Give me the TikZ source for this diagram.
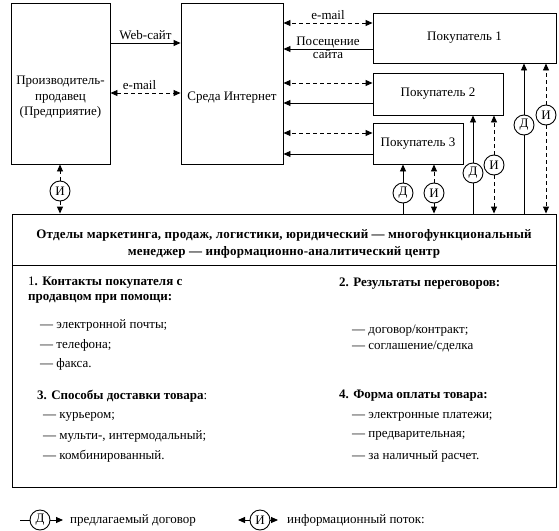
\documentclass[tikz,border=0pt]{standalone}
\usepackage{fontspec}
\setmainfont{Liberation Serif}
\newfontfamily\headfont[LetterSpace=1.5]{Liberation Serif}
\usetikzlibrary{arrows.meta, positioning}

\tikzset{tri/.tip={Triangle[length=7pt,width=6pt]}}

\begin{document}
\begin{tikzpicture}[
  x=1pt, y=-1pt,
  font=\fontsize{13}{15.5}\selectfont,
  box/.style={draw, line width=0.9pt, inner sep=0pt},
  badge/.style={circle, draw, fill=white, line width=0.9pt, minimum size=20pt, inner sep=0pt},
  wire/.style={line width=0.9pt},
  deal/.style={wire, -tri},
  info/.style={wire, dash pattern=on 4pt off 3pt, -tri},
  mail/.style={wire, dash pattern=on 4pt off 3pt, tri-tri},
  lbl/.style={inner sep=3pt},
  tight/.style={inner sep=0.5pt},
  item/.style={anchor=west, inner sep=0pt}
]
\useasboundingbox (0,0) rectangle (559,530);

% boxes
\node[box, minimum width=99pt, minimum height=161pt] (prod) at (60.5,83.5) {};
\node[align=center] (prodtxt) at ([yshift=-14pt]prod.center) {Производитель-\\продавец\\(Предприятие)};
\node[box, minimum width=102pt, minimum height=161pt] (inet) at (232,83.5) {};
\node (inettxt) at ([yshift=-14pt]inet.center) {Среда Интернет};
\node[box, minimum width=183pt, minimum height=50pt] (buy1) at (464.5,38) {Покупатель 1};
\node[box, minimum width=130pt, minimum height=42pt] (buy2) at (438,94) {Покупатель 2};
\node[box, minimum width=90pt, minimum height=41pt] (buy3) at (418,143.5) {Покупатель 3};
\node[box, minimum width=544pt, minimum height=51pt] (head) at (284,239.5) {};
\node[box, minimum width=544pt, minimum height=222pt] (body) at (284,376) {};
\node[align=center, font=\fontsize{13}{17}\headfont\bfseries] (headtxt) at ([yshift=-4pt]head.center)
  {Отделы маркетинга, продаж, логистики, юридический — многофункциональный\\
   менеджер — информационно-аналитический центр};

% seller -- internet
\draw[deal] ([yshift=40.5pt]prod.east) -- ([yshift=40.5pt]inet.west) node[midway, above, lbl] {Web-сайт};
\draw[mail] ([yshift=-9.5pt]prod.east) -- ([yshift=-9.5pt]inet.west) node[midway, above, lbl, xshift=-6pt] {e-mail};

% internet -- buyers
\coordinate (m1) at ([yshift=15pt]buy1.west);
\coordinate (v1) at ([yshift=-11pt]buy1.west);
\coordinate (m2) at ([yshift=11pt]buy2.west);
\coordinate (v2) at ([yshift=-9pt]buy2.west);
\coordinate (m3) at ([yshift=10.5pt]buy3.west);
\coordinate (v3) at ([yshift=-10.5pt]buy3.west);
\draw[mail] (m1) -- (m1 -| inet.east) node[midway, above, lbl] {e-mail};
\draw[deal] (v1) -- (v1 -| inet.east) node[midway, above, tight] {Посещение} node[midway, below, tight] {сайта};
\draw[mail] (m2) -- (m2 -| inet.east);
\draw[deal] (v2) -- (v2 -| inet.east);
\draw[mail] (m3) -- (m3 -| inet.east);
\draw[deal] (v3) -- (v3 -| inet.east);

% contracts and information flows
\node[badge] (i0) at (60,191) {И};
\draw[info] (i0) -- (prod.south -| i0);
\draw[info] (i0) -- (head.north -| i0);

\node[badge] (d3) at (403,193) {Д};
\node[badge] (i3) at (434,193) {И};
\node[badge] (d2) at (473,173) {Д};
\node[badge] (i2) at (494,165) {И};
\node[badge] (d1) at (524,125) {Д};
\node[badge] (i1) at (546,115) {И};
\draw[wire] (d3) -- (head.north -| d3);
\draw[deal] (d3) -- (buy3.south -| d3);
\draw[info] (i3) -- (head.north -| i3);
\draw[info] (i3) -- (buy3.south -| i3);
\draw[wire] (d2) -- (head.north -| d2);
\draw[deal] (d2) -- (buy2.south -| d2);
\draw[info] (i2) -- (head.north -| i2);
\draw[info] (i2) -- (buy2.south -| i2);
\draw[wire] (d1) -- (head.north -| d1);
\draw[deal] (d1) -- (buy1.south -| d1);
\draw[info] (i1) -- (head.north -| i1);
\draw[info] (i1) -- (buy1.south -| i1);

% lists
\node[item] (h1) at (28,283) {1\textbf{. Контакты покупателя с}};
\node[item] (h1b) at (28,299) {\textbf{продавцом при помощи:}};
\node[item] (h2) at (339,284) {\textbf{2. Результаты переговоров:}};
\node[item] (h3) at (37,396) {\textbf{3. Способы доставки товара}:};
\node[item] (h4) at (339,396) {\textbf{4. Форма оплаты товара:}};
\foreach \y/\txt [count=\i] in {325/{электронной почты;}, 345/{телефона;}, 364/{факса.}}
  \node[item] (a\i) at (40,\y) {— \txt};
\foreach \y/\txt [count=\i] in {331/{договор/контракт;}, 346/{соглашение/сделка}}
  \node[item] (b\i) at (352,\y) {— \txt};
\foreach \y/\txt [count=\i] in {417/{курьером;}, 436/{мульти-, интермодальный;}, 456/{комбинированный.}}
  \node[item] (c\i) at (43,\y) {— \txt};
\foreach \y/\txt [count=\i] in {417/{электронные платежи;}, 436/{предварительная;}, 456/{за наличный расчет.}}
  \node[item] (e\i) at (352,\y) {— \txt};

% legend
\node[badge] (keyd) at (40,520) {Д};
\coordinate (keyd0) at (20,520);
\node[item] (keydtxt) at (70,520) {предлагаемый договор};
\draw[wire] (keyd0) -- (keyd);
\draw[deal] (keyd) -- ([xshift=-7pt]keydtxt.west);
\node[badge] (keyi) at (260,520) {И};
\coordinate (keyi0) at (238,520);
\node[item] (keyitxt) at (287,520) {информационный поток:};
\draw[deal] (keyi) -- (keyi0);
\draw[deal] (keyi) -- ([xshift=-9pt]keyitxt.west);
\end{tikzpicture}
\end{document}
